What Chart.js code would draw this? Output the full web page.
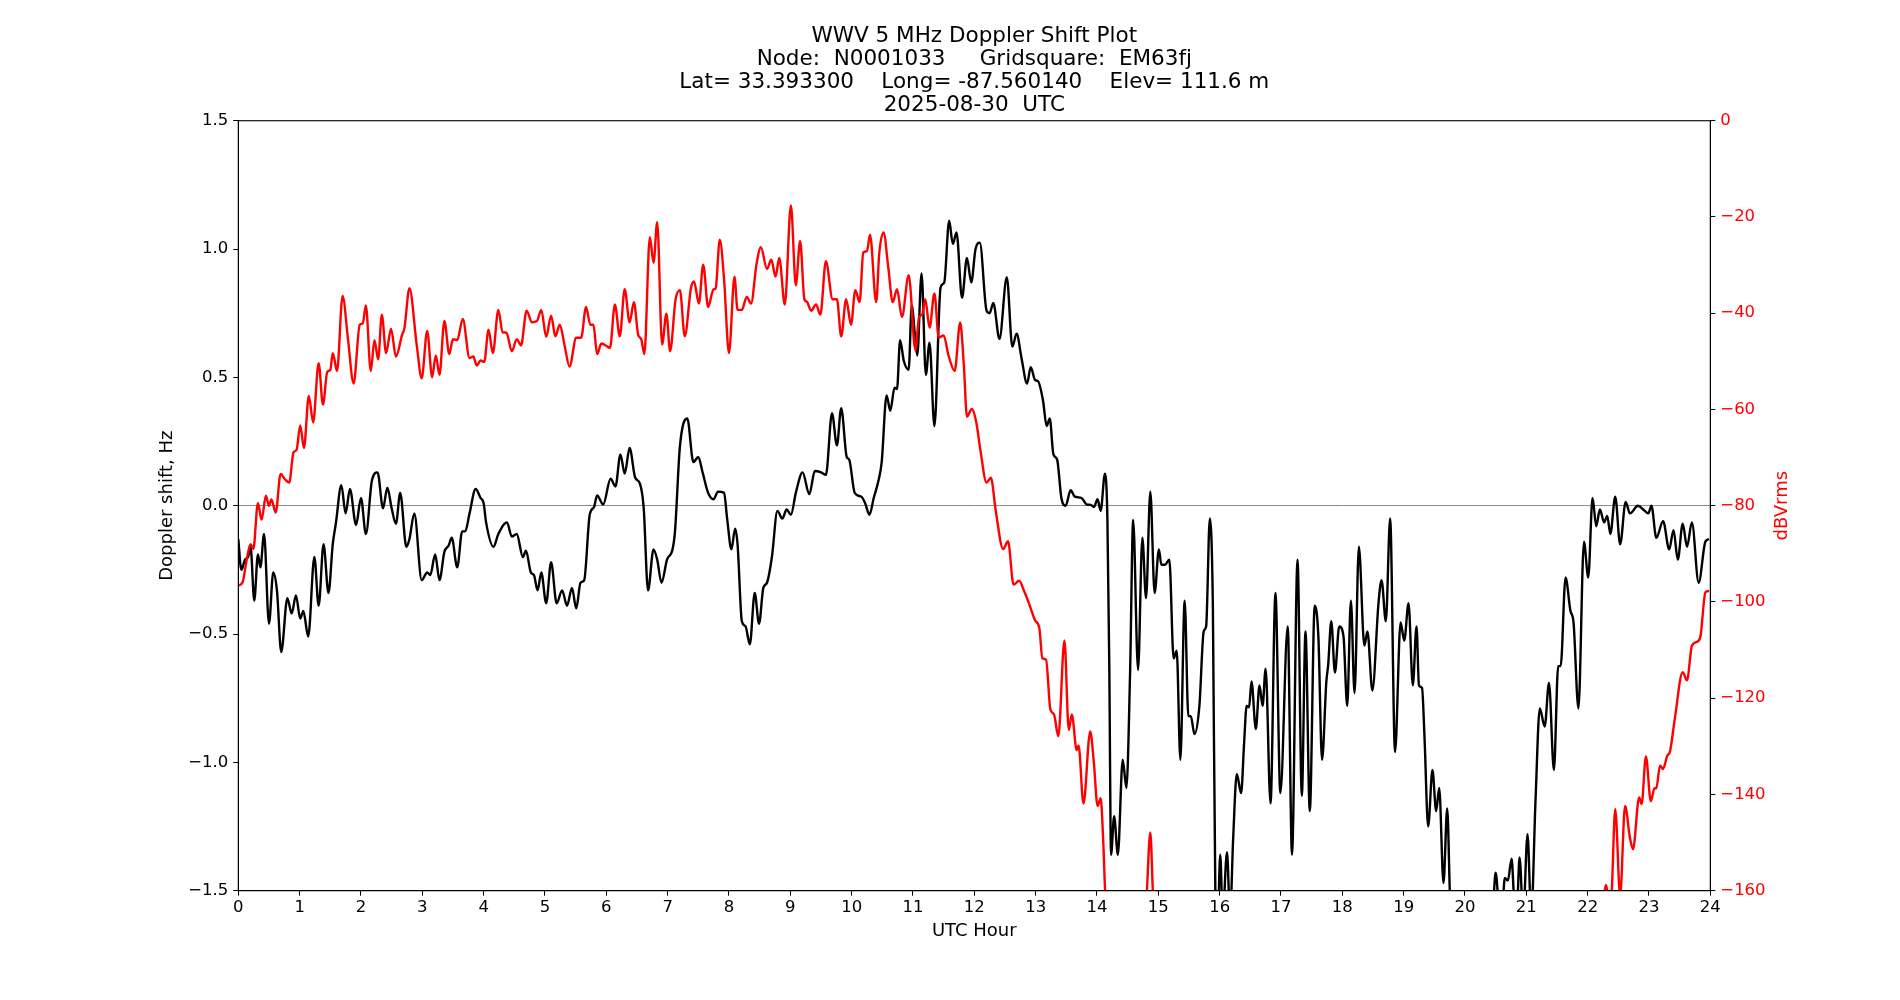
<!DOCTYPE html>
<html>
<head>
<meta charset="utf-8">
<script src="https://cdn.jsdelivr.net/npm/chart.js@4.4.0/dist/chart.umd.min.js"></script>
<style>
html, body { margin: 0; padding: 0; background: #fff; }
</style>
</head>
<body>
<canvas id="myChart" width="1900" height="1000"></canvas>
<script>
// Doppler shift (black), hours and Hz
var dopHours = [0.00,0.05,0.11,0.16,0.20,0.26,0.32,0.36,0.42,0.50,0.57,0.63,0.70,0.80,0.87,0.94,1.01,1.06,1.14,1.24,1.31,1.39,1.47,1.54,1.59,1.68,1.75,1.82,1.92,2.00,2.08,2.18,2.27,2.36,2.43,2.50,2.57,2.64,2.74,2.79,2.87,2.99,3.08,3.13,3.21,3.28,3.36,3.43,3.48,3.57,3.65,3.70,3.77,3.87,3.95,4.00,4.04,4.16,4.24,4.38,4.46,4.54,4.64,4.69,4.77,4.82,4.88,4.94,5.02,5.10,5.19,5.28,5.36,5.44,5.51,5.58,5.64,5.73,5.80,5.85,5.95,6.07,6.15,6.23,6.30,6.38,6.47,6.55,6.61,6.68,6.77,6.83,6.90,6.99,7.08,7.12,7.20,7.32,7.42,7.50,7.57,7.66,7.75,7.82,7.92,7.97,8.04,8.10,8.14,8.21,8.27,8.34,8.42,8.49,8.56,8.62,8.70,8.79,8.87,8.94,9.01,9.09,9.20,9.31,9.40,9.50,9.58,9.68,9.76,9.83,9.92,9.96,10.05,10.16,10.22,10.29,10.36,10.44,10.49,10.57,10.63,10.70,10.74,10.79,10.85,10.93,10.98,11.03,11.07,11.14,11.21,11.27,11.35,11.45,11.51,11.59,11.65,11.71,11.80,11.88,11.95,12.02,12.09,12.20,12.25,12.31,12.41,12.53,12.62,12.69,12.77,12.86,12.92,12.99,13.04,13.12,13.18,13.23,13.29,13.35,13.42,13.49,13.57,13.64,13.75,13.83,13.90,13.95,14.01,14.06,14.13,14.17,14.20,14.23,14.28,14.34,14.42,14.48,14.54,14.59,14.67,14.74,14.80,14.87,14.94,15.01,15.05,15.11,15.18,15.25,15.30,15.36,15.43,15.49,15.53,15.59,15.67,15.74,15.78,15.84,15.89,15.93,15.97,16.01,16.05,16.12,16.17,16.22,16.28,16.35,16.40,16.44,16.48,16.52,16.59,16.65,16.70,16.75,16.83,16.91,16.99,17.11,17.18,17.27,17.34,17.40,17.47,17.55,17.61,17.67,17.74,17.77,17.82,17.88,17.95,18.02,18.08,18.14,18.20,18.27,18.36,18.41,18.49,18.59,18.64,18.71,18.78,18.86,18.95,19.01,19.08,19.15,19.21,19.25,19.30,19.34,19.40,19.47,19.53,19.58,19.65,19.71,19.76,19.85,20.10,20.35,20.46,20.50,20.55,20.60,20.65,20.70,20.76,20.81,20.85,20.89,20.95,21.02,21.08,21.15,21.22,21.30,21.37,21.45,21.52,21.56,21.64,21.72,21.77,21.85,21.94,22.01,22.08,22.14,22.20,22.27,22.32,22.37,22.45,22.53,22.62,22.69,22.82,22.93,22.99,23.04,23.12,23.23,23.33,23.40,23.47,23.55,23.62,23.70,23.81,23.92,23.98];
var dopHz = [-0.13,-0.25,-0.21,-0.20,-0.16,-0.37,-0.19,-0.24,-0.11,-0.46,-0.26,-0.33,-0.57,-0.36,-0.42,-0.35,-0.44,-0.41,-0.51,-0.20,-0.39,-0.15,-0.34,-0.15,-0.07,0.08,-0.03,0.065,-0.075,0.03,-0.11,0.10,0.13,-0.01,0.07,-0.01,-0.07,0.05,-0.16,-0.13,-0.03,-0.29,-0.26,-0.27,-0.19,-0.29,-0.18,-0.155,-0.125,-0.24,-0.10,-0.10,-0.03,0.065,0.03,0.01,-0.065,-0.16,-0.11,-0.065,-0.12,-0.11,-0.20,-0.175,-0.26,-0.27,-0.33,-0.26,-0.38,-0.22,-0.38,-0.33,-0.39,-0.32,-0.40,-0.30,-0.29,-0.034,-0.005,0.04,0.005,0.105,0.075,0.20,0.125,0.225,0.11,0.085,-0.01,-0.33,-0.17,-0.21,-0.30,-0.21,-0.17,-0.10,0.23,0.34,0.17,0.19,0.13,0.05,0.025,0.055,0.05,-0.05,-0.17,-0.09,-0.15,-0.45,-0.47,-0.54,-0.34,-0.46,-0.32,-0.30,-0.20,-0.02,-0.05,-0.015,-0.035,0.05,0.13,0.045,0.135,0.13,0.12,0.36,0.235,0.38,0.19,0.18,0.05,0.035,0.01,-0.035,0.03,0.10,0.17,0.43,0.37,0.46,0.455,0.645,0.565,0.53,0.78,0.67,0.585,0.905,0.51,0.635,0.31,0.85,0.87,1.11,1.02,1.065,0.81,0.965,0.87,1.00,1.025,0.76,0.75,0.79,0.65,0.89,0.62,0.67,0.575,0.476,0.54,0.49,0.485,0.41,0.31,0.34,0.20,0.18,0.03,0.0,0.06,0.035,0.03,0.005,0.003,-0.005,0.025,-0.02,0.125,-0.05,-0.6,-1.36,-1.21,-1.36,-0.99,-1.10,-0.65,-0.055,-0.64,-0.125,-0.36,0.055,-0.34,-0.17,-0.23,-0.23,-0.21,-0.595,-0.565,-0.99,-0.37,-0.82,-0.82,-0.89,-0.78,-0.49,-0.47,-0.05,-0.40,-1.50,-1.60,-1.36,-1.60,-1.35,-1.60,-1.30,-1.045,-1.12,-0.92,-0.78,-0.785,-0.685,-0.87,-0.70,-0.78,-0.635,-1.16,-0.34,-1.12,-0.47,-1.36,-0.21,-1.13,-0.49,-1.19,-0.39,-0.51,-0.99,-0.685,-0.62,-0.45,-0.65,-0.47,-0.51,-0.78,-0.37,-0.73,-0.16,-0.545,-0.49,-0.72,-0.38,-0.29,-0.45,-0.05,-0.96,-0.455,-0.525,-0.38,-0.70,-0.47,-0.70,-0.71,-0.90,-1.25,-1.03,-1.19,-1.10,-1.47,-1.18,-1.55,-1.70,-1.75,-1.70,-1.55,-1.43,-1.55,-1.60,-1.45,-1.46,-1.375,-1.55,-1.55,-1.37,-1.60,-1.28,-1.60,-1.15,-0.79,-0.86,-0.69,-1.03,-0.625,-0.625,-0.28,-0.41,-0.455,-0.79,-0.14,-0.28,0.03,-0.08,-0.015,-0.065,-0.04,-0.11,0.035,-0.15,0.015,-0.03,0.0,-0.02,-0.03,0.0,-0.125,-0.06,-0.17,-0.095,-0.21,-0.07,-0.16,-0.065,-0.30,-0.14,-0.13];

// Received level (red), hours and dBVrms
var pwrHours = [0.00,0.07,0.14,0.20,0.245,0.32,0.38,0.45,0.50,0.54,0.61,0.69,0.76,0.83,0.90,0.95,1.01,1.07,1.15,1.22,1.31,1.38,1.45,1.50,1.54,1.61,1.70,1.79,1.88,1.98,2.03,2.08,2.16,2.22,2.28,2.34,2.41,2.49,2.57,2.67,2.71,2.79,2.91,2.99,3.08,3.16,3.22,3.28,3.36,3.44,3.50,3.57,3.66,3.77,3.83,3.89,3.95,4.01,4.08,4.15,4.24,4.31,4.37,4.46,4.54,4.61,4.70,4.79,4.87,4.94,5.02,5.10,5.17,5.24,5.32,5.40,5.51,5.59,5.67,5.74,5.79,5.85,5.92,5.99,6.06,6.14,6.22,6.30,6.38,6.45,6.52,6.57,6.62,6.71,6.77,6.83,6.91,6.98,7.04,7.13,7.20,7.28,7.38,7.43,7.51,7.58,7.66,7.75,7.78,7.85,7.92,8.00,8.09,8.14,8.21,8.29,8.36,8.45,8.52,8.62,8.69,8.76,8.82,8.91,9.01,9.09,9.16,9.23,9.27,9.34,9.42,9.49,9.58,9.69,9.76,9.83,9.91,9.99,10.06,10.13,10.19,10.25,10.30,10.40,10.45,10.52,10.60,10.67,10.74,10.82,10.93,11.04,11.10,11.15,11.20,11.27,11.35,11.42,11.50,11.58,11.68,11.77,11.83,11.88,11.96,12.03,12.10,12.20,12.27,12.35,12.47,12.55,12.64,12.73,12.82,12.90,12.99,13.06,13.11,13.17,13.24,13.30,13.37,13.47,13.54,13.59,13.67,13.70,13.78,13.89,13.95,14.01,14.06,14.10,14.14,14.30,14.60,14.80,14.87,14.92,15.30,17.00,19.00,21.00,22.00,22.25,22.30,22.36,22.39,22.45,22.53,22.61,22.69,22.74,22.84,22.88,22.95,23.03,23.09,23.12,23.18,23.23,23.30,23.34,23.42,23.55,23.62,23.70,23.78,23.84,23.92,23.98];
var pwrDb = [-96.6,-95.9,-91,-88,-89,-79.5,-82.9,-77.9,-80,-78.7,-81.4,-73.4,-74.5,-75.2,-68.9,-68.4,-63.3,-68,-57.2,-62.7,-50.4,-59,-52.2,-51.8,-48.3,-52,-36.4,-45.6,-54.6,-42.4,-42.1,-38.4,-52,-45.6,-49.6,-40.3,-48.3,-43.2,-49,-44.5,-43,-34.8,-46.7,-53.5,-43.7,-53.3,-48.8,-52.8,-41.6,-48.5,-45.4,-45.6,-41.2,-49.3,-49,-50.9,-49.8,-50.1,-43.4,-48.3,-39.3,-44,-44,-47.9,-45.4,-46.7,-39.5,-41.9,-41.6,-39.3,-44.9,-40.5,-44.8,-42.4,-46.7,-51.1,-45.1,-45.1,-38.7,-42.4,-42.4,-48.5,-46.3,-46.7,-47.2,-38.2,-44.8,-35,-41.9,-37.7,-44.5,-45.4,-48.5,-24.2,-29.5,-21.1,-46.5,-40.1,-47.9,-37.1,-35.2,-44.8,-34.8,-33.4,-38,-29.9,-38.7,-35,-35,-24.7,-32.9,-48.3,-32.4,-39.3,-39.3,-36.6,-38,-29.7,-26.3,-30.8,-28.9,-32.4,-28.5,-38.2,-17.6,-34.2,-25,-37.1,-37.6,-39.5,-38.2,-40.3,-29.2,-37.1,-37.1,-44.8,-37.1,-42.4,-35.2,-37.7,-27.4,-27.1,-23.7,-37.7,-27.6,-23.2,-30.8,-37.7,-35,-40.8,-32.1,-47.7,-40.8,-40.3,-37.1,-43,-35.9,-45.1,-44.6,-48.8,-52,-41.9,-50.9,-61.5,-59.9,-62.5,-68.5,-75.2,-74.2,-81.1,-89,-87.4,-96.4,-95.6,-98,-100.6,-103.8,-105.4,-111.7,-112,-122.3,-123.4,-127.9,-108,-126.6,-123.4,-130.8,-129.8,-141.9,-126.9,-133.5,-142.4,-140.8,-149,-162,-172,-172,-163,-147.9,-162,-175,-180,-180,-178,-170,-162,-158.8,-163,-161,-143,-161,-142.4,-149,-151.4,-140.6,-142,-132.1,-141.4,-138.7,-138.7,-134,-134.7,-131.9,-131.2,-124.4,-114.6,-116.3,-109.1,-108.3,-107.1,-98,-97.7];

// tick values and labels
var hourTicks = [0,1,2,3,4,5,6,7,8,9,10,11,12,13,14,15,16,17,18,19,20,21,22,23,24];
var hzTicks = [-1.5,-1.0,-0.5,0,0.5,1.0,1.5];
var hzLabels = ['\u22121.5','\u22121.0','\u22120.5','0.0','0.5','1.0','1.5'];
var dbTicks = [-160,-140,-120,-100,-80,-60,-40,-20,0];
var dbLabels = ['\u2212160','\u2212140','\u2212120','\u2212100','\u221280','\u221260','\u221240','\u221220','0'];

var titleLines = [
	'WWV 5 MHz Doppler Shift Plot',
	'Node:  N0001033     Gridsquare:  EM63fj',
	'Lat= 33.393300    Long= -87.560140    Elev= 111.6 m',
	'2025-08-30  UTC'
];

function toPoints(xs, ys) {
	var pts = [];
	for (var i = 0; i < xs.length; i++) {
		pts.push({x: xs[i], y: ys[i]});
	}
	return pts;
}

function setTicks(values) {
	return function(scale) {
		scale.ticks = values.map(function(v) { return {value: v}; });
	};
}

var fontFam = "'DejaVu Sans', sans-serif";

// frame round the plot area and the right-hand axis label
var framePlugin = {
	id: 'frame',
	afterDraw: function(chart) {
		var a = chart.chartArea;
		var ctx = chart.ctx;
		ctx.save();
		ctx.strokeStyle = '#000';
		ctx.lineWidth = 1.1;
		ctx.strokeRect(a.left, a.top, a.right - a.left, a.bottom - a.top);
		ctx.translate(1782, (a.top + a.bottom) / 2);
		ctx.rotate(-Math.PI / 2);
		ctx.fillStyle = 'red';
		ctx.font = '18px ' + fontFam;
		ctx.textAlign = 'center';
		ctx.textBaseline = 'middle';
		ctx.fillText('dBVrms', 0, 0);
		ctx.restore();
	}
};

var ctx = document.getElementById('myChart');

var myChart = new Chart(ctx, {
	type: 'line',
	data: {
		datasets: [
			{
				label: 'dBVrms',
				data: toPoints(pwrHours, pwrDb),
				yAxisID: 'y2',
				borderColor: 'red',
				borderWidth: 2.4,
				pointRadius: 0,
				fill: false,
				cubicInterpolationMode: 'monotone'
			},
			{
				label: 'Doppler shift',
				data: toPoints(dopHours, dopHz),
				yAxisID: 'y',
				borderColor: 'black',
				borderWidth: 2.4,
				pointRadius: 0,
				fill: false,
				cubicInterpolationMode: 'monotone'
			}
		]
	},
	options: {
		responsive: false,
		animation: false,
		devicePixelRatio: 1,
		layout: { padding: 0 },
		plugins: {
			legend: { display: false },
			tooltip: { enabled: false },
			title: {
				display: true,
				fullSize: false,
				text: titleLines,
				color: '#000',
				font: { family: fontFam, size: 21.5, weight: 'normal', lineHeight: 1.07 },
				padding: { top: 24.5, bottom: 4.2 }
			}
		},
		scales: {
			x: {
				type: 'linear',
				position: 'bottom',
				min: 0,
				max: 24,
				afterBuildTicks: setTicks(hourTicks),
				afterFit: function(s) { s.height = 109.3; },
				grid: { drawOnChartArea: false, drawTicks: true, tickLength: 5, tickColor: '#000' },
				border: { display: true, color: '#000', width: 1 },
				ticks: {
					color: '#000',
					font: { family: fontFam, size: 16.5 },
					padding: 2,
					maxRotation: 0,
					autoSkip: false,
					callback: function(v) { return String(v); }
				},
				title: {
					display: true,
					text: 'UTC Hour',
					color: '#000',
					font: { family: fontFam, size: 18 },
					padding: { top: 0, bottom: 58 }
				}
			},
			y: {
				type: 'linear',
				position: 'left',
				min: -1.5,
				max: 1.5,
				afterBuildTicks: setTicks(hzTicks),
				afterFit: function(s) { s.width = 238.3; },
				grid: {
					drawOnChartArea: true,
					drawTicks: true,
					tickLength: 5,
					tickColor: '#000',
					lineWidth: 1,
					color: function(c) { return (c.tick && c.tick.value === 0) ? '#8c8c8c' : 'rgba(0,0,0,0)'; }
				},
				border: { display: true, color: '#000', width: 1 },
				ticks: {
					color: '#000',
					font: { family: fontFam, size: 16.5 },
					padding: 5,
					autoSkip: false,
					callback: function(v, i) { return hzLabels[i]; }
				},
				title: {
					display: true,
					text: 'Doppler shift, Hz',
					color: '#000',
					font: { family: fontFam, size: 18 },
					padding: { top: 156.4, bottom: 0 }
				}
			},
			y2: {
				type: 'linear',
				position: 'right',
				min: -160,
				max: 0,
				afterBuildTicks: setTicks(dbTicks),
				afterFit: function(s) { s.width = 189.7; },
				grid: { drawOnChartArea: false, drawTicks: true, tickLength: 5, tickColor: '#000' },
				border: { display: true, color: '#000', width: 1 },
				ticks: {
					color: 'red',
					font: { family: fontFam, size: 16.5 },
					padding: 5,
					autoSkip: false,
					callback: function(v, i) { return dbLabels[i]; }
				}
			}
		}
	},
	plugins: [framePlugin]
});
</script>
</body>
</html>
